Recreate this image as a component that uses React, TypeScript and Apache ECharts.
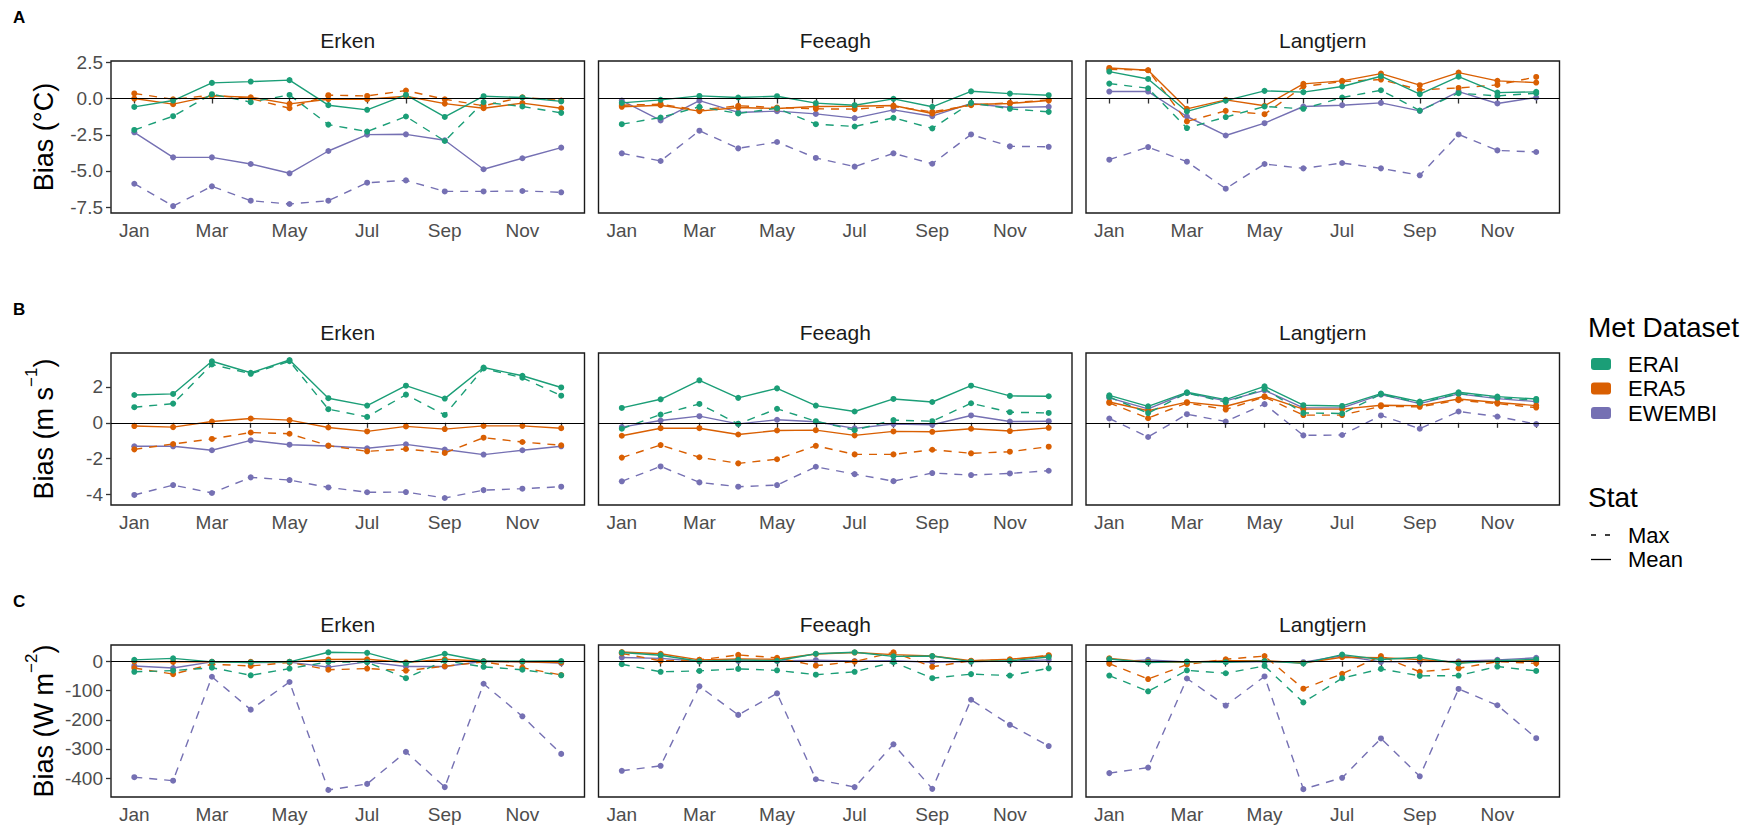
import React, { useEffect, useRef } from "react";
import * as echarts from "echarts";

// Month categories and facet names
const months = ["Jan", "Feb", "Mar", "Apr", "May", "Jun", "Jul", "Aug", "Sep", "Oct", "Nov", "Dec"];
const lakes = ["Erken", "Feeagh", "Langtjern"];
const datasets = ["ERAI", "ERA5", "EWEMBI"];
const datasetColors = ["#1B9E77", "#D95F02", "#7570B3"];

// A: air temperature bias (°C)
const tempErkenERAIMean = [-0.58, -0.14, 1.08, 1.17, 1.27, -0.46, -0.78, 0.25, -1.27, 0.16, 0.07, -0.2];
const tempErkenERAIMax = [-2.17, -1.22, 0.3, -0.25, 0.25, -1.8, -2.28, -1.24, -2.93, -0.25, -0.55, -0.99];
const tempErkenERA5Mean = [0.0, -0.39, 0.18, 0.09, -0.37, -0.05, -0.05, 0.16, -0.35, -0.67, -0.32, -0.67];
const tempErkenERA5Max = [0.35, -0.05, 0.23, 0.0, -0.67, 0.23, 0.18, 0.55, -0.05, -0.5, 0.09, -0.14];
const tempErkenEWEMBIMean = [-2.33, -4.06, -4.06, -4.52, -5.16, -3.62, -2.49, -2.47, -2.88, -4.88, -4.12, -3.39];
const tempErkenEWEMBIMax = [-5.88, -7.42, -6.06, -7.05, -7.28, -7.05, -5.81, -5.65, -6.41, -6.41, -6.38, -6.47];

const tempFeeaghERAIMean = [-0.3, -0.09, 0.18, 0.07, 0.16, -0.32, -0.46, -0.02, -0.57, 0.5, 0.34, 0.23];
const tempFeeaghERAIMax = [-1.77, -1.31, -0.57, -1.03, -0.67, -1.77, -1.93, -1.33, -2.06, -0.3, -0.71, -0.92];
const tempFeeaghERA5Mean = [-0.57, -0.46, -0.87, -0.62, -0.69, -0.55, -0.53, -0.48, -1.03, -0.41, -0.34, -0.14];
const tempFeeaghERA5Max = [-0.46, -0.39, -0.8, -0.5, -0.62, -0.71, -0.73, -0.55, -0.92, -0.46, -0.3, -0.09];
const tempFeeaghEWEMBIMean = [-0.14, -1.51, -0.14, -0.96, -0.87, -1.06, -1.35, -0.78, -1.22, -0.34, -0.62, -0.57];
const tempFeeaghEWEMBIMax = [-3.78, -4.31, -2.22, -3.44, -3.0, -4.1, -4.7, -3.78, -4.5, -2.48, -3.3, -3.33];

const tempLangtjernERAIMean = [1.86, 1.35, -0.89, -0.14, 0.53, 0.44, 0.83, 1.54, 0.3, 1.51, 0.41, 0.46];
const tempLangtjernERAIMax = [1.03, 0.71, -2.04, -1.28, -0.55, -0.71, 0.07, 0.57, -0.83, 0.37, 0.18, 0.37];
const tempLangtjernERA5Mean = [2.11, 1.95, -0.71, -0.09, -0.5, 1.01, 1.22, 1.72, 0.92, 1.79, 1.22, 1.1];
const tempLangtjernERA5Max = [2.02, 1.95, -1.58, -0.85, -1.08, 0.83, 1.17, 1.31, 0.6, 0.73, 0.94, 1.49];
const tempLangtjernEWEMBIMean = [0.48, 0.48, -1.24, -2.55, -1.7, -0.55, -0.46, -0.3, -0.85, 0.48, -0.34, 0.07];
const tempLangtjernEWEMBIMax = [-4.22, -3.35, -4.36, -6.22, -4.52, -4.82, -4.45, -4.82, -5.3, -2.48, -3.58, -3.69];

// B: wind speed bias (m s-1)
const windErkenERAIMean = [1.55, 1.61, 3.43, 2.79, 3.5, 1.37, 0.96, 2.07, 1.35, 3.08, 2.62, 1.97];
const windErkenERAIMax = [0.87, 1.07, 3.25, 2.73, 3.43, 0.76, 0.33, 1.57, 0.44, 3.03, 2.51, 1.51];
const windErkenERA5Mean = [-0.18, -0.24, 0.07, 0.24, 0.15, -0.26, -0.48, -0.2, -0.35, -0.17, -0.17, -0.3];
const windErkenERA5Max = [-1.48, -1.18, -0.9, -0.54, -0.61, -1.27, -1.59, -1.46, -1.68, -0.83, -1.07, -1.25];
const windErkenEWEMBIMean = [-1.31, -1.31, -1.53, -0.98, -1.22, -1.29, -1.42, -1.2, -1.49, -1.77, -1.53, -1.31];
const windErkenEWEMBIMax = [-4.02, -3.47, -3.91, -3.04, -3.19, -3.6, -3.87, -3.86, -4.19, -3.75, -3.67, -3.56];

const windFeeaghERAIMean = [0.83, 1.31, 2.37, 1.39, 1.92, 0.96, 0.63, 1.33, 1.16, 2.07, 1.5, 1.48];
const windFeeaghERAIMax = [-0.33, 0.46, 1.05, -0.06, 0.78, 0.09, -0.41, 0.15, 0.09, 1.09, 0.59, 0.55];
const windFeeaghERA5Mean = [-0.72, -0.3, -0.3, -0.65, -0.43, -0.41, -0.7, -0.48, -0.5, -0.33, -0.46, -0.28];
const windFeeaghERA5Max = [-1.94, -1.24, -1.92, -2.26, -2.03, -1.28, -1.76, -1.76, -1.5, -1.7, -1.61, -1.33];
const windFeeaghEWEMBIMean = [-0.24, 0.13, 0.37, -0.06, 0.17, 0.06, -0.31, -0.07, -0.11, 0.41, 0.07, 0.09];
const windFeeaghEWEMBIMax = [-3.26, -2.43, -3.32, -3.56, -3.47, -2.45, -2.86, -3.25, -2.8, -2.91, -2.82, -2.67];

const windLangtjernERAIMean = [1.53, 0.92, 1.7, 1.29, 2.03, 0.98, 0.94, 1.63, 1.18, 1.7, 1.46, 1.33];
const windLangtjernERAIMax = [1.44, 0.54, 1.66, 1.15, 1.89, 0.55, 0.52, 1.59, 1.11, 1.63, 1.4, 1.26];
const windLangtjernERA5Mean = [1.16, 0.67, 1.15, 0.92, 1.48, 0.76, 0.76, 0.98, 0.96, 1.33, 1.13, 0.96];
const windLangtjernERA5Max = [1.11, 0.26, 1.11, 0.74, 1.44, 0.43, 0.43, 0.92, 0.89, 1.26, 1.07, 0.85];
const windLangtjernEWEMBIMean = [1.39, 0.78, 1.66, 1.22, 1.81, 0.83, 0.83, 1.57, 1.07, 1.61, 1.35, 1.18];
const windLangtjernEWEMBIMax = [0.24, -0.79, 0.48, 0.07, 1.04, -0.7, -0.68, 0.41, -0.33, 0.63, 0.35, -0.07];

// C: shortwave radiation bias (W m-2)
const swErkenERAIMean = [6, 11, -1, -3, -1, 32, 30, -6, 27, 1, 1, 2];
const swErkenERAIMax = [-35, -31, -21, -47, -24, -1, -2, -57, 3, -18, -28, -47];
const swErkenERA5Mean = [0, -1, -1, -1, -1, 7, 8, -3, 8, 1, -1, -3];
const swErkenERA5Max = [-22, -43, -9, -15, -3, -28, -24, -31, -16, -1, -21, -46];
const swErkenEWEMBIMean = [-15, -22, -1, -3, -2, -19, -1, -17, -17, 1, -1, -5];
const swErkenEWEMBIMax = [-397, -409, -52, -165, -70, -441, -420, -310, -431, -76, -188, -317];

const swFeeaghERAIMean = [31, 22, 1, 6, 3, 27, 32, 18, 19, 0, 3, 16];
const swFeeaghERAIMax = [-9, -35, -32, -25, -30, -45, -35, -2, -57, -43, -48, -23];
const swFeeaghERA5Mean = [33, 27, 6, 9, 8, 26, 31, 24, 19, 3, 8, 20];
const swFeeaghERA5Max = [28, 3, 6, 23, 13, -14, 0, 32, -18, 3, 6, 22];
const swFeeaghEWEMBIMean = [14, 11, 1, 2, 2, 5, 2, 3, -2, 0, 2, 6];
const swFeeaghEWEMBIMax = [-375, -358, -85, -183, -109, -404, -431, -284, -437, -131, -217, -290];

const swLangtjernERAIMean = [9, -3, 0, -2, 2, -6, 24, 7, 15, -6, 3, 8];
const swLangtjernERAIMax = [-48, -102, -30, -40, -15, -140, -57, -25, -49, -48, -17, -32];
const swLangtjernERA5Mean = [11, -1, -2, 3, 3, -5, 15, 13, 7, -3, 2, 3];
const swLangtjernERA5Max = [-7, -60, -10, 8, 19, -93, -42, 19, -35, -23, 0, -6];
const swLangtjernEWEMBIMean = [-1, 6, -1, -1, 0, -2, 20, -1, 0, 1, 6, 13];
const swLangtjernEWEMBIMax = [-383, -364, -58, -151, -51, -438, -399, -264, -394, -94, -150, -263];

// Y axis ranges and tick values for each row
const tempTicks = [-7.5, -5, -2.5, 0, 2.5];
const windTicks = [-4, -2, 0, 2];
const swTicks = [-400, -300, -200, -100, 0];

const rows = [
  {
    letter: "A",
    min: -7.9,
    max: 2.59,
    ticks: tempTicks,
    decimals: 1,
    title: "{a|Bias (°C)}",
    panels: [
      [[tempErkenERAIMean, tempErkenERAIMax], [tempErkenERA5Mean, tempErkenERA5Max], [tempErkenEWEMBIMean, tempErkenEWEMBIMax]],
      [[tempFeeaghERAIMean, tempFeeaghERAIMax], [tempFeeaghERA5Mean, tempFeeaghERA5Max], [tempFeeaghEWEMBIMean, tempFeeaghEWEMBIMax]],
      [[tempLangtjernERAIMean, tempLangtjernERAIMax], [tempLangtjernERA5Mean, tempLangtjernERA5Max], [tempLangtjernEWEMBIMean, tempLangtjernEWEMBIMax]],
    ],
  },
  {
    letter: "B",
    min: -4.58,
    max: 3.89,
    ticks: windTicks,
    decimals: 0,
    title: "{a|Bias (m s}{s|−1}{a|)}",
    panels: [
      [[windErkenERAIMean, windErkenERAIMax], [windErkenERA5Mean, windErkenERA5Max], [windErkenEWEMBIMean, windErkenEWEMBIMax]],
      [[windFeeaghERAIMean, windFeeaghERAIMax], [windFeeaghERA5Mean, windFeeaghERA5Max], [windFeeaghEWEMBIMean, windFeeaghEWEMBIMax]],
      [[windLangtjernERAIMean, windLangtjernERAIMax], [windLangtjernERA5Mean, windLangtjernERA5Max], [windLangtjernEWEMBIMean, windLangtjernEWEMBIMax]],
    ],
  },
  {
    letter: "C",
    min: -465,
    max: 57,
    ticks: swTicks,
    decimals: 0,
    title: "{a|Bias (W m}{s|−2}{a|)}",
    panels: [
      [[swErkenERAIMean, swErkenERAIMax], [swErkenERA5Mean, swErkenERA5Max], [swErkenEWEMBIMean, swErkenEWEMBIMax]],
      [[swFeeaghERAIMean, swFeeaghERAIMax], [swFeeaghERA5Mean, swFeeaghERA5Max], [swFeeaghEWEMBIMean, swFeeaghEWEMBIMax]],
      [[swLangtjernERAIMean, swLangtjernERAIMax], [swLangtjernERA5Mean, swLangtjernERA5Max], [swLangtjernEWEMBIMean, swLangtjernEWEMBIMax]],
    ],
  },
];

// Layout of the facet grid (pixels)
const FONT = "'Liberation Sans', Arial, Helvetica, sans-serif";
const BOX_LEFT = [111, 598.5, 1086];
const BOX_W = 473.5;
const ROW_TOP = [61, 353, 645];
const BOX_H = 152;
const TICK_COLOR = "#333333";
const LABEL_COLOR = "#4D4D4D";

function buildOption() {
  const grid: any[] = [];
  const xAxis: any[] = [];
  const yAxis: any[] = [];
  const series: any[] = [];
  const graphic: any[] = [];

  rows.forEach((row, r) => {
    lakes.forEach((lake, c) => {
      const idx = r * 3 + c;
      grid.push({
        left: BOX_LEFT[c],
        top: ROW_TOP[r],
        width: BOX_W,
        height: BOX_H,
        show: true,
        borderColor: "#1A1A1A",
        borderWidth: 1.4,
        backgroundColor: "transparent",
      });
      xAxis.push({
        type: "value",
        gridIndex: idx,
        min: 0.4,
        max: 12.6,
        axisLine: { show: false },
        splitLine: { show: false },
        axisTick: {
          show: true,
          length: 5,
          lineStyle: { color: TICK_COLOR, width: 1.3 },
          customValues: months.map((_, i) => i + 1),
        },
        axisLabel: {
          show: true,
          customValues: [1, 3, 5, 7, 9, 11],
          formatter: (v: number) => months[Math.round(v) - 1],
          color: LABEL_COLOR,
          fontSize: 19,
          fontFamily: FONT,
          margin: 8,
        },
      });
      yAxis.push({
        type: "value",
        gridIndex: idx,
        min: row.min,
        max: row.max,
        axisLine: { show: false },
        splitLine: { show: false },
        axisTick: {
          show: c === 0,
          length: 5,
          lineStyle: { color: TICK_COLOR, width: 1.3 },
          customValues: row.ticks,
        },
        axisLabel: {
          show: c === 0,
          customValues: row.ticks,
          formatter: (v: number) => v.toFixed(row.decimals),
          color: LABEL_COLOR,
          fontSize: 19,
          fontFamily: FONT,
          margin: 8,
        },
      });

      // zero reference line
      series.push({
        type: "line",
        xAxisIndex: idx,
        yAxisIndex: idx,
        data: [[1, 0]],
        showSymbol: false,
        lineStyle: { opacity: 0 },
        silent: true,
        z: 1,
        markLine: {
          silent: true,
          symbol: ["none", "none"],
          label: { show: false },
          lineStyle: { color: "#000000", width: 1.2, type: "solid" },
          data: [{ yAxis: 0 }],
        },
      });

      // EWEMBI drawn first, ERAI on top
      [2, 1, 0].forEach((d) => {
        const [meanVals, maxVals] = row.panels[c][d];
        [
          { vals: maxVals, dash: [8, 7] as any },
          { vals: meanVals, dash: "solid" },
        ].forEach((s) => {
          series.push({
            type: "line",
            name: datasets[d],
            xAxisIndex: idx,
            yAxisIndex: idx,
            data: s.vals.map((v, i) => [i + 1, v]),
            symbol: "circle",
            symbolSize: 6,
            silent: true,
            z: 3,
            itemStyle: { color: datasetColors[d] },
            lineStyle: { color: datasetColors[d], width: 1.4, type: s.dash },
          });
        });
      });

      // facet strip title
      graphic.push({
        type: "text",
        x: BOX_LEFT[c] + BOX_W / 2,
        y: ROW_TOP[r] - 21,
        style: {
          text: lake,
          fill: "#1A1A1A",
          font: `21px ${FONT}`,
          textAlign: "center",
          textVerticalAlign: "middle",
        },
      });
    });

    // panel letter
    graphic.push({
      type: "text",
      x: 13,
      y: ROW_TOP[r] - 44,
      style: {
        text: row.letter,
        fill: "#000000",
        font: `bold 17px ${FONT}`,
        textAlign: "left",
        textVerticalAlign: "middle",
      },
    });

    // y axis title
    graphic.push({
      type: "text",
      x: 40,
      y: ROW_TOP[r] + BOX_H / 2,
      rotation: Math.PI / 2,
      style: {
        text: row.title,
        fill: "#000000",
        textAlign: "center",
        textVerticalAlign: "middle",
        rich: {
          a: { fontSize: 27, fontFamily: FONT, lineHeight: 34, verticalAlign: "bottom", fill: "#000000" },
          s: { fontSize: 17, fontFamily: FONT, lineHeight: 17, verticalAlign: "top", fill: "#000000" },
        },
      },
    });
  });

  // legend: Met Dataset
  const legX = 1591;
  graphic.push({
    type: "text",
    x: legX - 3,
    y: 327,
    style: { text: "Met Dataset", fill: "#000000", font: `28px ${FONT}`, textAlign: "left", textVerticalAlign: "middle" },
  });
  datasets.forEach((name, d) => {
    const cy = 364 + d * 24.5;
    graphic.push({
      type: "rect",
      shape: { x: legX, y: cy - 6, width: 20, height: 12, r: 3 },
      style: { fill: datasetColors[d] },
    });
    graphic.push({
      type: "text",
      x: legX + 37,
      y: cy,
      style: { text: name, fill: "#000000", font: `22px ${FONT}`, textAlign: "left", textVerticalAlign: "middle" },
    });
  });

  // legend: Stat
  graphic.push({
    type: "text",
    x: legX - 3,
    y: 497,
    style: { text: "Stat", fill: "#000000", font: `28px ${FONT}`, textAlign: "left", textVerticalAlign: "middle" },
  });
  ["Max", "Mean"].forEach((name, k) => {
    const cy = 535 + k * 24.5;
    graphic.push({
      type: "line",
      shape: { x1: legX, y1: cy, x2: legX + 20, y2: cy },
      style: { stroke: "#000000", lineWidth: 1.3, lineDash: k === 0 ? [5, 9] : null },
    });
    graphic.push({
      type: "text",
      x: legX + 37,
      y: cy,
      style: { text: name, fill: "#000000", font: `22px ${FONT}`, textAlign: "left", textVerticalAlign: "middle" },
    });
  });

  return {
    animation: false,
    backgroundColor: "#FFFFFF",
    textStyle: { fontFamily: FONT },
    grid,
    xAxis,
    yAxis,
    series,
    graphic,
  };
}

export default function App() {
  const ref = useRef<HTMLDivElement>(null);
  useEffect(() => {
    if (!ref.current) return;
    const chart = echarts.init(ref.current, undefined, { renderer: "svg" });
    chart.setOption(buildOption());
    return () => chart.dispose();
  }, []);
  return (
    <div
      ref={ref}
      style={{ position: "fixed", left: 0, top: 0, width: 1747, height: 833, background: "#FFFFFF" }}
    />
  );
}
